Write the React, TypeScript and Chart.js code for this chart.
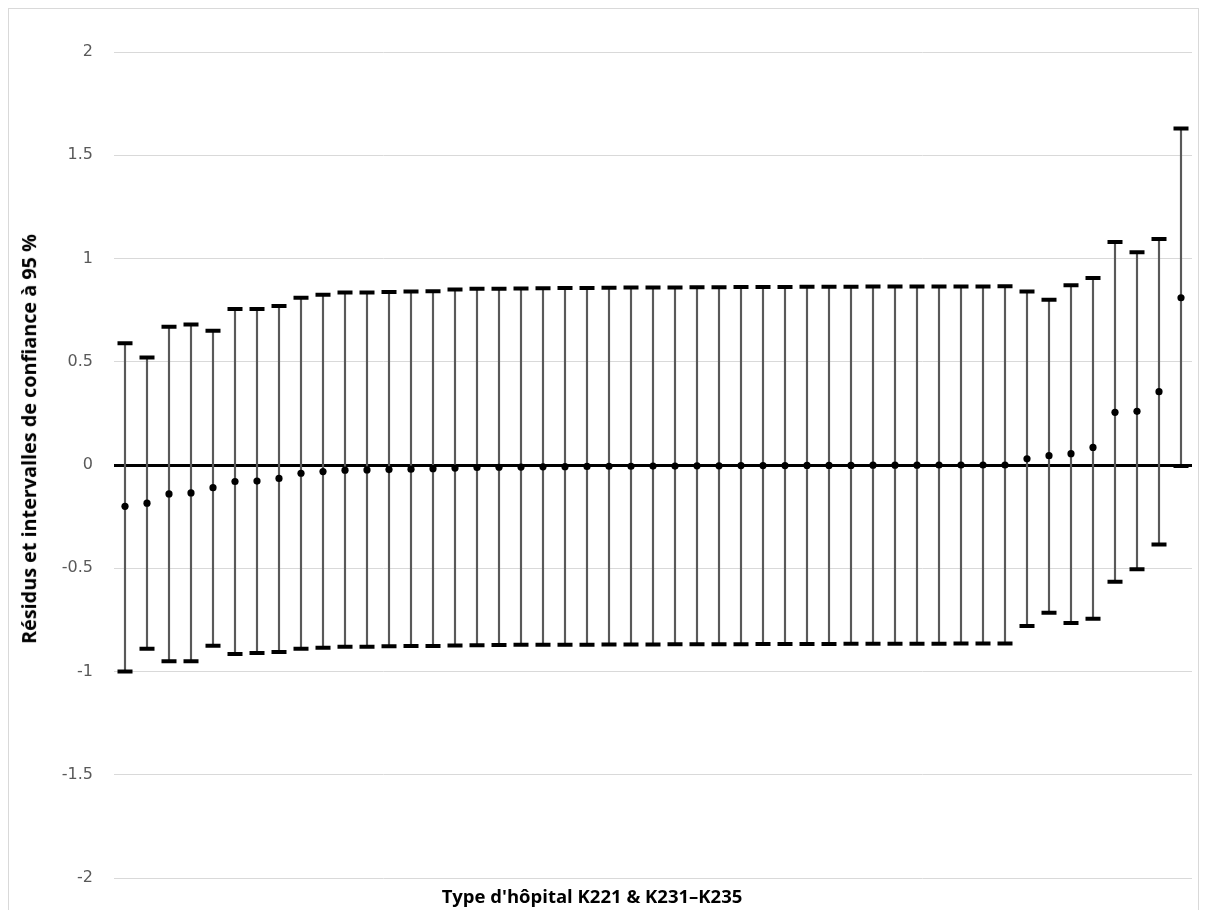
import React, { useEffect, useRef } from "react";
import { Chart, registerables } from "chart.js";

Chart.register(...registerables);

const categories: string[] = Array.from({ length: 49 }, (_, i) => String(i + 1));

const upperBounds: number[] = [
  0.59, 0.52, 0.67, 0.68, 0.65, 0.755, 0.755, 0.77, 0.81, 0.825,
  0.835, 0.835, 0.838, 0.84, 0.842, 0.85, 0.853, 0.854, 0.855, 0.856,
  0.857, 0.857, 0.858, 0.859, 0.86, 0.86, 0.861, 0.861, 0.862, 0.862,
  0.862, 0.863, 0.863, 0.863, 0.864, 0.864, 0.864, 0.865, 0.865, 0.865,
  0.866, 0.84, 0.8, 0.87, 0.905, 1.08, 1.03, 1.095, 1.63,
];

const lowerBounds: number[] = [
  -1.0, -0.89, -0.95, -0.95, -0.875, -0.915, -0.91, -0.905, -0.89, -0.885,
  -0.88, -0.88, -0.878, -0.877, -0.876, -0.874, -0.873, -0.872, -0.871, -0.871,
  -0.87, -0.87, -0.869, -0.869, -0.869, -0.868, -0.868, -0.868, -0.868, -0.867,
  -0.867, -0.867, -0.867, -0.866, -0.866, -0.866, -0.866, -0.866, -0.865, -0.865,
  -0.865, -0.78, -0.715, -0.765, -0.745, -0.565, -0.505, -0.385, -0.005,
];

const residuals: number[] = [
  -0.2, -0.185, -0.14, -0.135, -0.11, -0.08, -0.078, -0.065, -0.04, -0.032,
  -0.025, -0.024, -0.022, -0.02, -0.018, -0.015, -0.012, -0.011, -0.01, -0.009,
  -0.008, -0.007, -0.006, -0.006, -0.005, -0.005, -0.004, -0.004, -0.003, -0.003,
  -0.003, -0.002, -0.002, -0.002, -0.001, -0.001, -0.001, 0, 0, 0,
  0, 0.03, 0.045, 0.055, 0.085, 0.255, 0.26, 0.355, 0.81,
];

const yTickValues: number[] = [-2, -1.5, -1, -0.5, 0, 0.5, 1, 1.5, 2];

const yTitle = "Résidus et intervalles de confiance à 95 %";
const xTitle = "Type d'hôpital K221 & K231–K235";

export default function App() {
  const canvasRef = useRef<HTMLCanvasElement | null>(null);

  useEffect(() => {
    document.documentElement.style.overflow = "hidden";
    document.body.style.overflow = "hidden";
    const canvas = canvasRef.current;
    if (!canvas) return;
    const chart = new Chart(canvas, {
      type: "bar",
      data: {
        labels: categories,
        datasets: [
          {
            type: "line",
            label: "residual",
            data: residuals,
            showLine: false,
            pointStyle: "circle",
            pointRadius: 3.6,
            pointBackgroundColor: "#000000",
            pointBorderColor: "#000000",
            pointBorderWidth: 0,
            order: 1,
          } as any,
          {
            type: "line",
            label: "upper",
            data: upperBounds,
            showLine: false,
            pointStyle: "line",
            pointRadius: 7.5,
            pointBorderColor: "#000000",
            pointBorderWidth: 4,
            order: 2,
          } as any,
          {
            type: "line",
            label: "lower",
            data: lowerBounds,
            showLine: false,
            pointStyle: "line",
            pointRadius: 7.5,
            pointBorderColor: "#000000",
            pointBorderWidth: 4,
            order: 3,
          } as any,
          {
            type: "bar",
            label: "range",
            data: categories.map((_, i) => [lowerBounds[i], upperBounds[i]]),
            backgroundColor: "#595959",
            borderWidth: 0,
            barThickness: 1.5,
            order: 4,
          } as any,
        ],
      },
      options: {
        animation: false,
        responsive: false,
        maintainAspectRatio: false,
        layout: { autoPadding: false, padding: { left: 0, top: 43, right: 6, bottom: 0 } },
        plugins: {
          legend: { display: false },
          tooltip: { enabled: false },
        },
        scales: {
          x: {
            offset: true,
            grid: { display: false, drawTicks: false },
            border: { display: false },
            ticks: { display: false },
            title: { display: false },
            afterFit: (scale: any) => {
              scale.height = 32;
              scale.paddingLeft = 0;
              scale.paddingRight = 0;
            },
          },
          y: {
            min: -2,
            max: 2,
            afterBuildTicks: (scale: any) => {
              scale.ticks = yTickValues.map((v) => ({ value: v }));
            },
            grid: {
              drawTicks: false,
              color: (ctx: any) => (ctx.tick && ctx.tick.value === 0 ? "#000000" : "#d9d9d9"),
              lineWidth: (ctx: any) => (ctx.tick && ctx.tick.value === 0 ? 3 : 1),
            },
            border: { display: false },
            ticks: {
              padding: 21,
              color: "#595959",
              font: { family: "'DejaVu Sans'", size: 16 },
              callback: (v: any) => String(v),
            },
            title: { display: false },
            afterFit: (scale: any) => {
              scale.width = 105;
              scale.paddingTop = 0;
              scale.paddingBottom = 0;
            },
          },
        },
      },
    });
    return () => chart.destroy();
  }, []);

  const titleFont = "'Open Sans', 'Noto Sans', sans-serif";

  return (
    <div
      style={{
        width: 1191,
        height: 910,
        border: "1px solid #d9d9d9",
        boxSizing: "border-box",
        position: "relative",
        background: "#ffffff",
      }}
    >
      <canvas
        ref={canvasRef}
        width={1189}
        height={901}
        style={{ display: "block", width: 1189, height: 901 }}
      />
      <div
        style={{
          position: "absolute",
          left: 20,
          top: 430,
          transform: "translate(-50%, -50%) rotate(-90deg)",
          whiteSpace: "nowrap",
          fontFamily: titleFont,
          fontWeight: 700,
          fontSize: 19.8,
          lineHeight: 1,
          color: "#000000",
        }}
      >
        {yTitle}
      </div>
      <div
        style={{
          position: "absolute",
          left: 583,
          top: 887,
          transform: "translate(-50%, -50%)",
          whiteSpace: "nowrap",
          fontFamily: titleFont,
          fontWeight: 700,
          fontSize: 18.5,
          lineHeight: 1,
          color: "#000000",
        }}
      >
        {xTitle}
      </div>
    </div>
  );
}
